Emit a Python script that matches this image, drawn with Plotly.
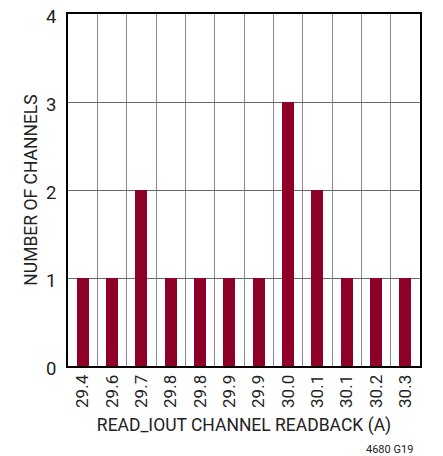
import plotly.graph_objects as go

labels = ["29.4", "29.6", "29.7", "29.8", "29.8", "29.9", "29.9", "30.0", "30.1", "30.1", "30.2", "30.3"]
counts = [1, 1, 2, 1, 1, 1, 1, 3, 2, 1, 1, 1]
positions = [i + 0.5 for i in range(len(labels))]

FONT = "Roboto, Liberation Sans, sans-serif"
BAR = "#8E0028"

fig = go.Figure(go.Bar(x=positions, y=counts, width=0.42, marker=dict(color=BAR, line=dict(width=0))))

# page body has an 8px default margin, so the figure is offset by 8px
fig.update_layout(
    width=435, height=448,
    margin=dict(l=60, r=23, t=6, b=90),
    paper_bgcolor="white", plot_bgcolor="white",
    font=dict(family=FONT, size=17, color="#222"),
    showlegend=False, bargap=0,
    annotations=[dict(text="4680 G19", x=0.986, y=-0.236, xref="paper", yref="paper",
                      xanchor="right", yanchor="middle", showarrow=False,
                      font=dict(size=11, family=FONT, color="#222"))],
)
fig.update_xaxes(
    range=[0, len(labels)], tickmode="array", tickvals=positions, ticktext=labels,
    tickangle=-90, showgrid=False, zeroline=False, ticks="", automargin=False,
    ticklabeloverflow="allow",
    showline=True, linecolor="black", linewidth=2, mirror=True,
    minor=dict(tickmode="linear", tick0=0, dtick=1, showgrid=True, gridcolor="#8a8a8a", gridwidth=1, ticks=""),
    title=dict(text="READ_IOUT CHANNEL READBACK (A)", standoff=12, font=dict(size=17.5)),
    tickfont=dict(size=17),
)
fig.update_yaxes(
    range=[0, 4], tickmode="linear", tick0=0, dtick=1,
    showgrid=True, gridcolor="#6a6a6a", gridwidth=1, zeroline=False, ticks="", automargin=False,
    ticklabelstandoff=6, ticklabeloverflow="allow", ticklabelshift=3,
    showline=True, linecolor="black", linewidth=2, mirror=True,
    title=dict(text="NUMBER OF CHANNELS", standoff=4, font=dict(size=17.5)),
    tickfont=dict(size=18.5),
)

fig.write_html("out.html")
